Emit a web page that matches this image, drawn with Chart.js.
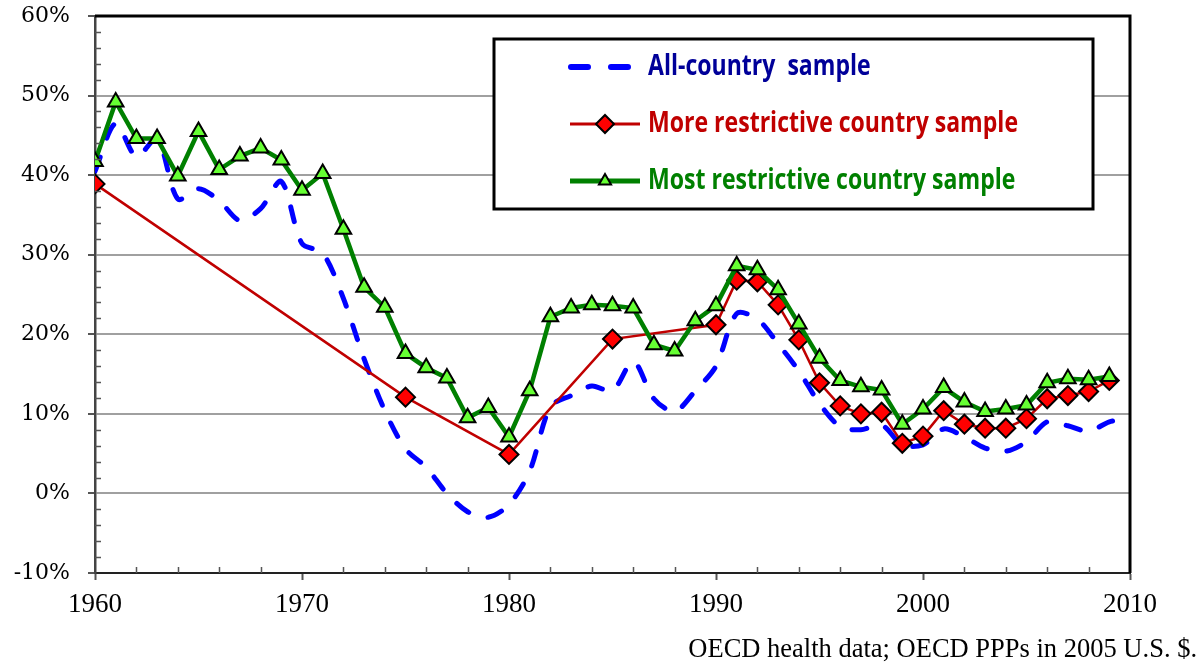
<!DOCTYPE html>
<html>
<head>
<meta charset="utf-8">
<script src="https://cdn.jsdelivr.net/npm/chart.js@4"></script>
<style>
  html, body { margin: 0; padding: 0; background: #fff; }
  #wrap { width: 1203px; height: 665px; position: relative; }
</style>
</head>
<body>
<div id="wrap"><canvas id="chart"></canvas></div>
<script>
// years on the x axis
const years = [1960,1961,1962,1963,1964,1965,1966,1967,1968,1969,
  1970,1971,1972,1973,1974,1975,1976,1977,1978,1979,
  1980,1981,1982,1983,1984,1985,1986,1987,1988,1989,
  1990,1991,1992,1993,1994,1995,1996,1997,1998,1999,
  2000,2001,2002,2003,2004,2005,2006,2007,2008,2009,2010];

// all-country sample (%)
const allCountry = [40.5,46.5,42.3,44.6,37.0,38.3,36.8,34.3,35.8,39.2,
  31.4,30.2,24.5,16.9,10.4,5.6,3.3,0.0,-2.3,-3.0,
  -1.4,2.8,10.9,12.3,13.5,12.9,16.6,11.9,10.3,12.9,
  16.0,22.6,21.9,18.8,15.4,11.3,8.4,8.0,8.6,6.1,
  6.1,8.1,7.1,5.7,5.3,6.5,9.0,8.5,7.8,9.0,9.4];

// more restrictive country sample (%)
const moreRestrictive = [38.9,null,null,null,null,null,null,null,null,null,
  null,null,null,null,null,12.1,null,null,null,null,
  4.9,null,null,null,null,19.4,null,null,null,null,
  21.2,26.8,26.6,23.7,19.3,13.9,11.0,10.0,10.2,6.3,
  7.2,10.4,8.7,8.2,8.2,9.4,11.9,12.3,12.8,14.2,null];

// most restrictive country sample (%)
const mostRestrictive = [41.7,49.2,44.6,44.6,39.9,45.5,40.7,42.4,43.4,41.9,
  38.1,40.2,33.2,25.9,23.4,17.6,15.8,14.5,9.5,10.8,
  7.1,12.9,22.2,23.3,23.7,23.6,23.3,18.7,17.9,21.7,
  23.6,28.6,28.1,25.6,21.3,17.0,14.2,13.4,13.0,8.7,
  10.6,13.3,11.5,10.3,10.6,11.1,13.9,14.4,14.3,14.7,null];

const yTicks = [-10, 0, 10, 20, 30, 40, 50, 60];
const sourceNote = 'OECD health data; OECD PPPs in 2005 U.S. $.';

function pts(vals) {
  return years.map((y, i) => ({x: y, y: vals[i]}));
}

// frame, minor ticks, boxed legend and source line
const decor = {
  id: 'decor',
  afterDraw(chart) {
    const {ctx, chartArea: a, scales} = chart;
    const xs = scales.x, ys = scales.y;
    ctx.save();
    // minor ticks
    ctx.strokeStyle = '#555';
    ctx.lineWidth = 1.5;
    ctx.beginPath();
    for (let v = -10; v < 60; v += 2) {
      if (v % 10 === 0) continue;
      const py = Math.round(ys.getPixelForValue(v)) + 0.5;
      ctx.moveTo(a.left, py); ctx.lineTo(a.left + 6, py);
    }
    for (let yr = 1960; yr < 2010; yr += 2) {
      if (yr % 10 === 0) continue;
      const px = Math.round(xs.getPixelForValue(yr)) + 0.5;
      ctx.moveTo(px, a.bottom); ctx.lineTo(px, a.bottom - 6);
    }
    ctx.stroke();
    // top and right frame
    ctx.strokeStyle = '#000';
    ctx.lineWidth = 3;
    ctx.beginPath();
    ctx.moveTo(a.left, a.top); ctx.lineTo(a.right, a.top); ctx.lineTo(a.right, a.bottom);
    ctx.stroke();

    // legend box
    const bx = 494, by = 39, bw = 599, bh = 170;
    ctx.fillStyle = '#fff';
    ctx.fillRect(bx, by, bw, bh);
    ctx.lineWidth = 3;
    ctx.strokeStyle = '#000';
    ctx.strokeRect(bx, by, bw, bh);

    const items = [
      {ds: 0, y: 67, color: '#000099'},
      {ds: 1, y: 124, color: '#C00000'},
      {ds: 2, y: 181, color: '#008000'}
    ];
    ctx.textBaseline = 'middle';
    ctx.font = 'bold 29px "Open Sans", "Liberation Sans", sans-serif';
    // squeeze the text to the narrow look of the original
    const sx = 370 / ctx.measureText(chart.data.datasets[1].label).width;
    items.forEach(it => {
      const d = chart.data.datasets[it.ds];
      ctx.save();
      ctx.strokeStyle = d.borderColor;
      ctx.lineCap = d.borderCapStyle || 'butt';
      ctx.beginPath();
      if (d.borderDash) {
        ctx.lineWidth = 6;
        ctx.moveTo(571, it.y); ctx.lineTo(588, it.y);
        ctx.moveTo(611, it.y); ctx.lineTo(628, it.y);
      } else {
        ctx.lineWidth = d.borderWidth + 0.5;
        ctx.moveTo(570, it.y); ctx.lineTo(640, it.y);
      }
      ctx.stroke();
      ctx.restore();
      if (d.pointStyle) {
        ctx.save();
        ctx.fillStyle = d.pointBackgroundColor;
        ctx.strokeStyle = d.pointBorderColor;
        ctx.lineWidth = 2;
        const r = d.pointStyle === 'triangle' ? 7 : 9;
        Chart.helpers.drawPoint(ctx, {pointStyle: d.pointStyle, radius: r, borderWidth: 2}, 605, it.y);
        ctx.restore();
      }
      ctx.save();
      ctx.translate(648, it.y);
      ctx.scale(sx, 1);
      ctx.fillStyle = it.color;
      ctx.fillText(d.label, 0, 0);
      ctx.restore();
    });

    // source note
    ctx.fillStyle = '#000';
    ctx.font = '26.5px "Liberation Serif", "Times New Roman", serif';
    ctx.textAlign = 'right';
    ctx.textBaseline = 'alphabetic';
    ctx.fillText(sourceNote, 1197, 657);
    ctx.restore();
  }
};

new Chart(document.getElementById('chart'), {
  type: 'line',
  data: {
    datasets: [
      {
        label: 'All-country  sample',
        data: pts(allCountry),
        borderColor: '#0000FF',
        borderWidth: 5,
        borderDash: [15, 20],
        borderCapStyle: 'round',
        pointRadius: 0,
        tension: 0.3,
        fill: false,
        order: 2
      },
      {
        label: 'More restrictive country sample',
        data: pts(moreRestrictive),
        borderColor: '#C00000',
        borderWidth: 2.5,
        pointStyle: 'rectRot',
        pointRadius: 9.5,
        pointBackgroundColor: '#FF0000',
        pointBorderColor: '#000',
        pointBorderWidth: 2,
        spanGaps: true,
        tension: 0,
        fill: false,
        order: 1
      },
      {
        label: 'Most restrictive country sample',
        data: pts(mostRestrictive),
        borderColor: '#008000',
        borderWidth: 4.5,
        pointStyle: 'triangle',
        pointRadius: 9,
        pointBackgroundColor: '#66FF33',
        pointBorderColor: '#000',
        pointBorderWidth: 2,
        tension: 0,
        fill: false,
        order: 0
      }
    ]
  },
  options: {
    responsive: true,
    maintainAspectRatio: false,
    animation: false,
    layout: { padding: { top: 16, right: 73, left: 0, bottom: 0 } },
    plugins: {
      legend: { display: false },
      tooltip: { enabled: false },
      title: { display: false }
    },
    scales: {
      x: {
        type: 'linear',
        min: 1960,
        max: 2010,
        afterFit: s => { s.height = 92; s.paddingLeft = 0; s.paddingRight = 0; },
        ticks: {
          stepSize: 10,
          color: '#000',
          padding: 9,
          font: { family: '"Liberation Serif", serif', size: 27 },
          callback: v => String(v)
        },
        grid: { drawOnChartArea: false, tickLength: 7, tickColor: '#555', tickWidth: 2 },
        border: { display: true, color: '#222', width: 2 }
      },
      y: {
        min: -10,
        max: 60,
        afterFit: s => { s.width = 95; s.paddingTop = 0; s.paddingBottom = 0; },
        afterBuildTicks: s => { s.ticks = yTicks.map(v => ({value: v})); },
        ticks: {
          color: '#000',
          padding: 18,
          font: { family: '"DejaVu Serif", serif', size: 22 },
          callback: v => v + '%'
        },
        grid: { color: '#A0A0A0', lineWidth: 2, tickLength: 7, tickColor: '#555', tickWidth: 2 },
        border: { display: true, color: '#444', width: 2.5 }
      }
    }
  },
  plugins: [decor]
});
</script>
</body>
</html>
